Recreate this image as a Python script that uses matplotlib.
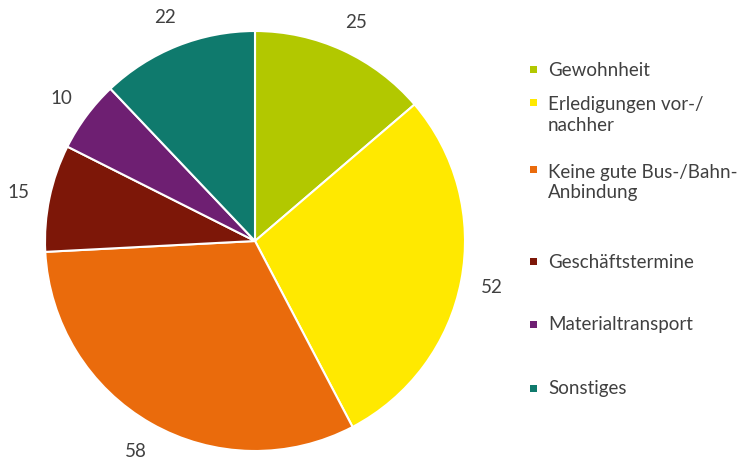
import matplotlib.pyplot as plt
from matplotlib.patches import Rectangle

categories = ['Gewohnheit', 'Erledigungen vor-/\nnachher', 'Keine gute Bus-/Bahn-\nAnbindung',
              'Geschäftstermine', 'Materialtransport', 'Sonstiges']
values = [25, 52, 58, 15, 10, 22]
colors = ['#B2C800', '#FFE900', '#EA6B0C', '#7D1708', '#6E1F72', '#0F7A6D']

plt.rcParams['font.family'] = ['Lato', 'DejaVu Sans']
text_color = '#404040'
fs = 13.5

fig = plt.figure(figsize=(7.48, 4.6), dpi=100)
W, H = 748, 460
# pie region in pixels: x 45..465, y 32..452 (from top)
ax = fig.add_axes([45 / W, (H - 452) / H, 420 / W, 420 / H])
wedges, texts = ax.pie(values, colors=colors, startangle=90, counterclock=False,
                       labels=[str(v) for v in values], labeldistance=1.15,
                       wedgeprops=dict(edgecolor='white', linewidth=1.5),
                       textprops=dict(color=text_color, fontsize=fs))
for t in texts:
    t.set_ha('center')
    t.set_va('center')
    t.set_clip_on(False)
ax.set_xlim(-1, 1)
ax.set_ylim(-1, 1)

# legend drawn by hand to follow the reference spacing (first line y, text centre y)
marker_y = [70, 103, 170, 262, 325, 389]
text_y = [70, 115, 182.5, 262, 325, 389]
for cat, col, my, ty in zip(categories, colors, marker_y, text_y):
    fig.patches.append(Rectangle((530 / W, (H - my - 4) / H), 7 / W, 7 / H,
                                 transform=fig.transFigure, facecolor=col, edgecolor='none'))
    fig.text(548 / W, (H - ty) / H, cat, ha='left', va='center',
             fontsize=fs, color=text_color, linespacing=1.25,
             transform=fig.transFigure)

fig.savefig('out.png', dpi=100)
